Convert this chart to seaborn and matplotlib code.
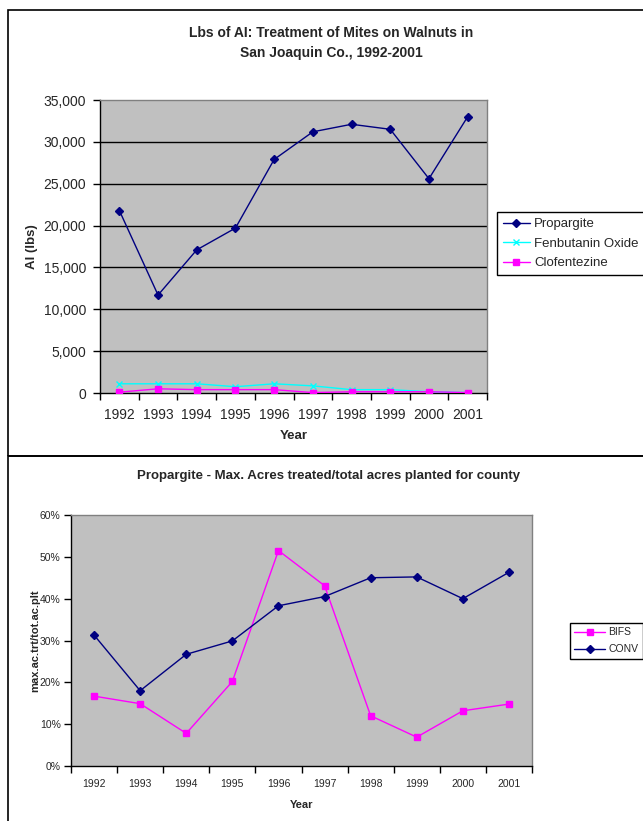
import matplotlib
matplotlib.use("Agg")
import matplotlib.pyplot as plt
import numpy as np
import pandas as pd
import seaborn as sns
from matplotlib.patches import Rectangle
from matplotlib.ticker import FuncFormatter, PercentFormatter

# ------------------------------------------------------------------
# data
# ------------------------------------------------------------------
years = ["1992", "1993", "1994", "1995", "1996",
         "1997", "1998", "1999", "2000", "2001"]

propargite = [21800, 11700, 17100, 19700, 27900, 31200, 32100, 31500, 25600, 33000]
fenbutanin = [1100, 1100, 1100, 750, 1100, 850, 400, 400, 150, 50]
clofentezine = [100, 500, 400, 400, 400, 50, 150, 150, 150, 50]

bifs = [0.167, 0.149, 0.078, 0.202, 0.515, 0.431, 0.120, 0.069, 0.132, 0.148]
conv = [0.313, 0.180, 0.267, 0.299, 0.383, 0.405, 0.450, 0.452, 0.400, 0.463]

top_names = ["Propargite", "Fenbutanin Oxide", "Clofentezine"]
bot_names = ["BIFS", "CONV"]

NAVY = "#000080"
CYAN = "#00FFFF"
MAGENTA = "#FF00FF"
PLOT_BG = "#C0C0C0"

# colour, marker, marker size
top_style = {"Propargite": (NAVY, "D", 3.8),
             "Fenbutanin Oxide": (CYAN, "x", 4.0),
             "Clofentezine": (MAGENTA, "s", 4.5)}
bot_style = {"BIFS": (MAGENTA, "s", 4.5), "CONV": (NAVY, "D", 3.8)}

sns.set_theme(style="white")
plt.rcParams["font.family"] = ["Liberation Sans", "DejaVu Sans"]

df_top = pd.DataFrame({
    "Year": years * 3,
    "lbs": propargite + fenbutanin + clofentezine,
    "AI": np.repeat(top_names, len(years)),
})
df_bot = pd.DataFrame({
    "Year": years * 2,
    "frac": bifs + conv,
    "grp": np.repeat(bot_names, len(years)),
})

W, H = 643, 821
fig = plt.figure(figsize=(W / 100, H / 100), dpi=100)


def px_axes(left, top, right, bottom):
    return fig.add_axes([left / W, 1 - bottom / H, (right - left) / W, (bottom - top) / H])


def style_axes(ax, n, pad):
    ax.set_facecolor(PLOT_BG)
    for s in ["top", "right"]:
        ax.spines[s].set_color("#808080")
        ax.spines[s].set_linewidth(1.0)
    for s in ["left", "bottom"]:
        ax.spines[s].set_color("black")
        ax.spines[s].set_linewidth(1.0)
    ax.set_xlim(-0.5, n - 0.5)
    ax.set_xticks(np.arange(n))
    ax.set_xticks(np.arange(-0.5, n, 1), minor=True)
    ax.tick_params(axis="x", which="major", length=0, pad=pad)
    ax.tick_params(axis="x", which="minor", length=5, width=1, color="black",
                   direction="out", bottom=True)
    ax.tick_params(axis="y", which="major", length=5, width=1, color="black",
                   direction="out", left=True)


def draw_series(ax, df, col, ycol, styles):
    for name, (color, marker, ms) in styles.items():
        sub = df[df[col] == name]
        sns.lineplot(data=sub, x="Year", y=ycol, color=color, marker=marker,
                     markersize=ms, markeredgewidth=1.0, markeredgecolor=color,
                     linewidth=1.0, label=name, ax=ax, zorder=3)


# ------------------------------------------------------------------
# top chart
# ------------------------------------------------------------------
ax1 = px_axes(100, 100, 487, 393)
draw_series(ax1, df_top, "AI", "lbs", top_style)
style_axes(ax1, len(years), pad=11)
ax1.set_ylim(0, 35000)
ax1.set_yticks(np.arange(0, 35001, 5000))
ax1.yaxis.set_major_formatter(FuncFormatter(lambda v, p: f"{int(v):,}"))
for v in range(5000, 35000, 5000):
    ax1.axhline(v, color="black", lw=1.0, zorder=1)
ax1.tick_params(labelsize=10)
ax1.tick_params(axis="y", pad=5)
ax1.set_xlabel("Year", fontsize=9.5, fontweight="bold")
ax1.set_ylabel("Al (lbs)", fontsize=9.5, fontweight="bold")
ax1.xaxis.set_label_coords(0.5, -0.125)
ax1.yaxis.set_label_coords(-0.16, 0.5)
h, l = ax1.get_legend_handles_labels()
ax1.legend(h, l, loc="upper left", bbox_to_anchor=(497 / W, 1 - 212 / H),
           bbox_transform=fig.transFigure, fontsize=9.5, frameon=True,
           fancybox=False, edgecolor="black", framealpha=1, borderpad=0.45,
           handlelength=2.05, handletextpad=0.3, labelspacing=0.55, borderaxespad=0)
ax1.get_legend().get_frame().set_linewidth(1.0)

# ------------------------------------------------------------------
# bottom chart
# ------------------------------------------------------------------
ax2 = px_axes(71, 515, 532, 766)
draw_series(ax2, df_bot, "grp", "frac", bot_style)
style_axes(ax2, len(years), pad=9)
ax2.set_ylim(0, 0.6)
ax2.set_yticks(np.arange(0, 0.61, 0.1))
ax2.yaxis.set_major_formatter(PercentFormatter(1.0, decimals=0))
ax2.tick_params(labelsize=7.5)
ax2.tick_params(axis="y", pad=2.5)
ax2.set_xlabel("Year", fontsize=8, fontweight="bold")
ax2.set_ylabel("max.ac.trt/tot.ac.plt", fontsize=8, fontweight="bold")
ax2.xaxis.set_label_coords(0.5, -0.135)
ax2.yaxis.set_label_coords(-0.066, 0.5)
h, l = ax2.get_legend_handles_labels()
ax2.legend(h, l, loc="upper left", bbox_to_anchor=(570 / W, 1 - 623 / H),
           bbox_transform=fig.transFigure, fontsize=7.5, frameon=True,
           fancybox=False, edgecolor="black", framealpha=1, borderpad=0.4,
           handlelength=3.0, handletextpad=0.3, labelspacing=0.7, borderaxespad=0)
ax2.get_legend().get_frame().set_linewidth(1.0)

# titles
fig.text(331 / W, 1 - 43 / H,
         "Lbs of AI: Treatment of Mites on Walnuts in\nSan Joaquin Co., 1992-2001",
         ha="center", va="center", fontsize=10, fontweight="bold", linespacing=1.6)
fig.text(329 / W, 1 - 476 / H,
         "Propargite - Max. Acres treated/total acres planted for county",
         ha="center", va="center", fontsize=9.5, fontweight="bold")

# chart frames (excel-style chart area borders)
fig.add_artist(Rectangle((8 / W, 1 - 456 / H), 1.2, (456 - 10) / H,
                         transform=fig.transFigure, fill=False,
                         edgecolor="black", lw=1.2))
fig.add_artist(Rectangle((8 / W, -0.2), 1.2, 1 - 456 / H + 0.2,
                         transform=fig.transFigure, fill=False,
                         edgecolor="black", lw=1.2))

fig.savefig("out.png", dpi=100)
